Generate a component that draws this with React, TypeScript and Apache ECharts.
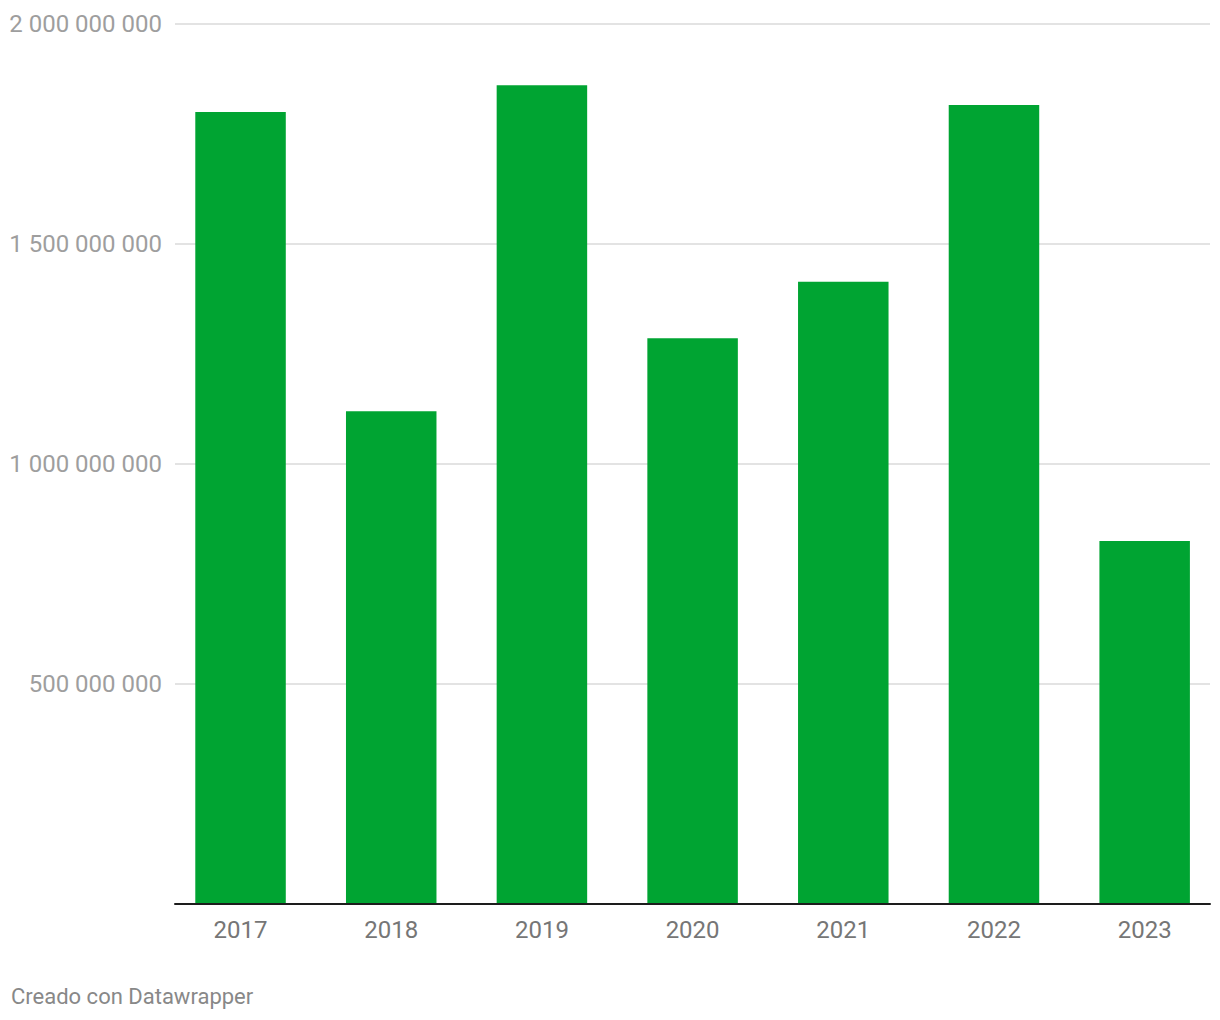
import React, { useEffect, useRef } from "react";
import * as echarts from "echarts";

const years = ["2017", "2018", "2019", "2020", "2021", "2022", "2023"];
const values = [1800000000, 1120000000, 1861000000, 1286000000, 1414000000, 1816000000, 825000000];
const yMin = 0;
const yMax = 2000000000;
const yStep = 500000000;
const credit = "Creado con Datawrapper";

const fmt = (v: number) =>
  v === 0 ? "" : String(Math.round(v)).replace(/\B(?=(\d{3})+(?!\d))/g, " ");

export default function App() {
  const ref = useRef<HTMLDivElement>(null);
  useEffect(() => {
    const chart = echarts.init(ref.current!, null, { renderer: "svg" });
    const font = "Roboto";
    chart.setOption({
      animation: false,
      backgroundColor: "#ffffff",
      textStyle: { fontFamily: font },
      grid: [
        { left: 175, right: 10, top: 24, bottom: 116 },
        { left: 165.2, width: 1056.4, top: 24, bottom: 116 },
      ],
      xAxis: [
        {
          type: "category",
          gridIndex: 0,
          data: years,
          axisLine: { show: true, lineStyle: { color: "#1d1d1d", width: 2 } },
          axisTick: { show: false },
          axisLabel: { show: false },
          splitLine: { show: false },
          z: 10,
        },
        {
          type: "category",
          gridIndex: 1,
          data: years,
          axisLine: { show: false },
          axisTick: { show: false },
          axisLabel: {
            color: "#767676",
            fontSize: 24,
            fontFamily: font,
            margin: 14,
          },
          splitLine: { show: false },
        },
      ],
      yAxis: [
        {
          type: "value",
          gridIndex: 0,
          min: yMin,
          max: yMax,
          interval: yStep,
          axisLine: { show: false },
          axisTick: { show: false },
          axisLabel: {
            color: "#9e9e9e",
            fontSize: 24,
            fontFamily: font,
            margin: 13,
            formatter: fmt,
          },
          splitLine: { lineStyle: { color: "#e3e3e3", width: 2 } },
        },
        {
          type: "value",
          gridIndex: 1,
          min: yMin,
          max: yMax,
          interval: yStep,
          show: false,
          splitLine: { show: false },
        },
      ],
      series: [
        {
          type: "bar",
          xAxisIndex: 1,
          yAxisIndex: 1,
          data: values,
          barWidth: 90.5,
          itemStyle: { color: "#00a432" },
          z: 2,
        },
      ],
      graphic: [
        {
          type: "text",
          left: 11,
          top: 985,
          style: {
            text: credit,
            fill: "#888888",
            fontSize: 22,
            fontFamily: font,
          },
        },
      ],
    });
    return () => chart.dispose();
  }, []);
  return (
    <div
      ref={ref}
      style={{ position: "absolute", left: 0, top: 0, width: 1220, height: 1020 }}
    />
  );
}
